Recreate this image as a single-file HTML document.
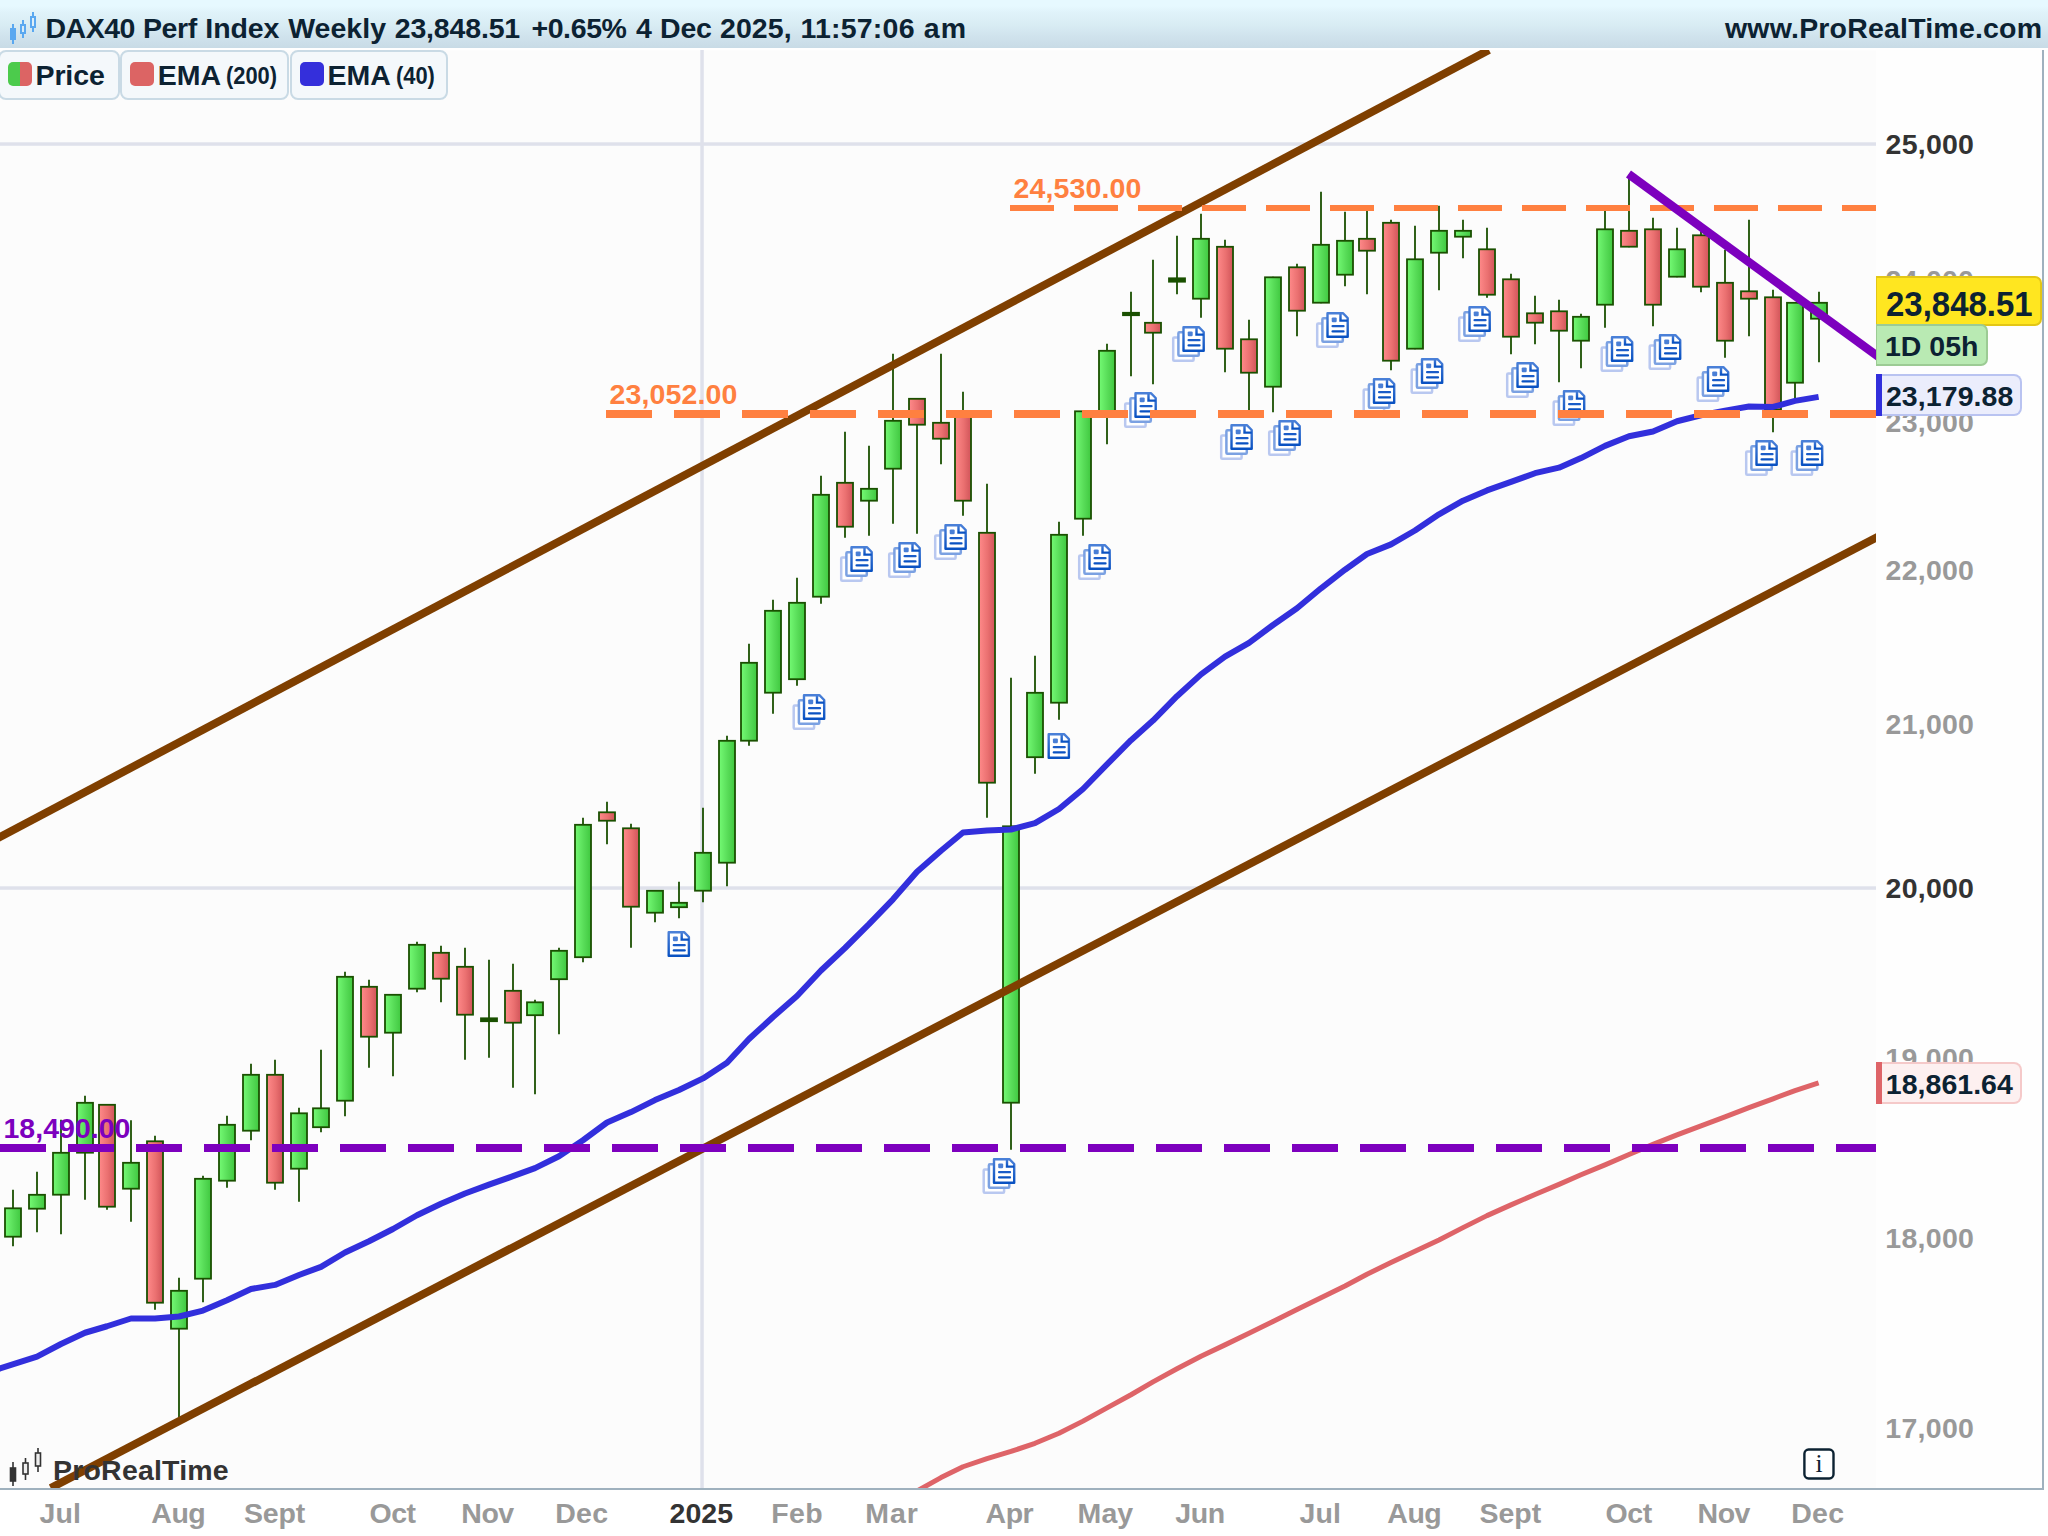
<!DOCTYPE html>
<html><head><meta charset="utf-8"><title>DAX40 Perf Index Weekly</title>
<style>
html,body{margin:0;padding:0;background:#fff;}
body{width:2048px;height:1536px;position:relative;overflow:hidden;font-family:"Liberation Sans",sans-serif;font-weight:bold;}
#titlebar{position:absolute;left:0;top:0;width:2048px;height:48px;background:linear-gradient(#e6f9ff 0px,#e6f9ff 6px,#e0f3fa 12px,#d9edf4 24px,#d0e3ed 36px,#c8dbe6 48px);}
#chart{position:absolute;left:0;top:0;}
.leg{position:absolute;top:50px;height:45.5px;border:2px solid #c9dae5;border-radius:8px;background:#f4f8fb;font-size:28px;line-height:45px;color:#0c2232;white-space:nowrap;box-sizing:content-box;}
.leg i{position:absolute;top:10px;width:24px;height:24px;border-radius:5px;}
.leg span{position:absolute;top:0.6px;font-size:24.5px;transform:scaleX(0.893);transform-origin:0 0;}
.tag{position:absolute;box-sizing:border-box;white-space:nowrap;color:#0c2232;}
.t{position:absolute;line-height:40px;white-space:nowrap;}
</style></head><body>
<div id="titlebar"></div>

<svg id="chart" width="2048" height="1536" viewBox="0 0 2048 1536">
<defs>
<linearGradient id="gg" x1="0" x2="1" y1="0" y2="0"><stop offset="0" stop-color="#74fa74"/><stop offset="0.55" stop-color="#58dc58"/><stop offset="1" stop-color="#40c840"/></linearGradient>
<linearGradient id="rg" x1="0" x2="1" y1="0" y2="0"><stop offset="0" stop-color="#ff8a8a"/><stop offset="0.55" stop-color="#ea7070"/><stop offset="0.9" stop-color="#d65a5e"/><stop offset="1" stop-color="#e4626a"/></linearGradient>
<linearGradient id="dg" x1="0" x2="0" y1="0" y2="1"><stop offset="0" stop-color="#4a80d8"/><stop offset="1" stop-color="#0a52c2"/></linearGradient>
<clipPath id="plot"><rect x="0" y="50" width="1876" height="1438"/></clipPath>
<g id="doc">
<path d="M1.2 1.2H16.6L21.4 6V24.8H1.2Z" fill="#fff" stroke="url(#dg)" stroke-width="2.4" stroke-linejoin="round"/>
<path d="M14.2 1.2V8.6H21.4" fill="none" stroke="url(#dg)" stroke-width="2.4"/>
<rect x="5.4" y="5.4" width="5" height="4.8" rx="1.2" fill="#4a7fd6"/>
<path d="M6.3 14.2H17.2" stroke="#1a5cc8" stroke-width="2.3" stroke-linecap="round"/>
<path d="M6.3 19.4H17.2" stroke="#0a52c2" stroke-width="2.3" stroke-linecap="round"/>
</g>
<g id="docs">
<rect x="-9.1" y="11.5" width="20.4" height="23.3" rx="1" fill="#fff" stroke="#b9c8f0" stroke-width="2.5"/>
<rect x="-3.9" y="6.3" width="20.4" height="23.4" rx="1" fill="#fff" stroke="#7ba1e2" stroke-width="2.5"/>
<use href="#doc"/>
</g>
</defs>
<rect x="0" y="50.4" width="1876" height="1438" fill="#fcfcfc"/>
<rect x="1876" y="50" width="166" height="1438" fill="#fefefe"/>
<g fill="#dfe1eb"><rect x="0" y="142.3" width="1876" height="3.5"/><rect x="0" y="886.3" width="1876" height="3.5"/><rect x="700.3" y="50" width="3.5" height="1438"/></g>
<g clip-path="url(#plot)">
<g stroke="#1a5000" stroke-width="1.8">
<path d="M13 1189.7V1246.3" fill="none"/>
<rect x="5" y="1208.3" width="16" height="28.4" fill="url(#gg)"/>
<path d="M37 1171.7V1232.3" fill="none"/>
<rect x="29" y="1194.8" width="16" height="13.9" fill="url(#gg)"/>
<path d="M61 1119.7V1234.3" fill="none"/>
<rect x="53" y="1152.8" width="16" height="41.9" fill="url(#gg)"/>
<path d="M85 1095.7V1199.8" fill="none"/>
<rect x="77" y="1102.8" width="16" height="49.9" fill="url(#gg)"/>
<path d="M107 1104.2V1209.8" fill="none"/>
<rect x="99" y="1104.8" width="16" height="101.9" fill="url(#rg)"/>
<path d="M131 1120.2V1221.8" fill="none"/>
<rect x="123" y="1162.8" width="16" height="25.9" fill="url(#gg)"/>
<path d="M155 1135.7V1309.8" fill="none"/>
<rect x="147" y="1141.3" width="16" height="161.4" fill="url(#rg)"/>
<path d="M179 1277.7V1417.3" fill="none"/>
<rect x="171" y="1290.8" width="16" height="37.9" fill="url(#gg)"/>
<path d="M203 1175.7V1302.3" fill="none"/>
<rect x="195" y="1178.8" width="16" height="99.9" fill="url(#gg)"/>
<path d="M227 1115.7V1187.8" fill="none"/>
<rect x="219" y="1124.8" width="16" height="55.9" fill="url(#gg)"/>
<path d="M251 1063.7V1140.3" fill="none"/>
<rect x="243" y="1074.8" width="16" height="55.9" fill="url(#gg)"/>
<path d="M275 1059.7V1189.8" fill="none"/>
<rect x="267" y="1074.8" width="16" height="107.9" fill="url(#rg)"/>
<path d="M299 1107.7V1201.8" fill="none"/>
<rect x="291" y="1113.3" width="16" height="55.4" fill="url(#gg)"/>
<path d="M321 1049.7V1132.3" fill="none"/>
<rect x="313" y="1108.3" width="16" height="18.9" fill="url(#gg)"/>
<path d="M345 971.7V1116.3" fill="none"/>
<rect x="337" y="976.8" width="16" height="123.9" fill="url(#gg)"/>
<path d="M369 979.7V1067.8" fill="none"/>
<rect x="361" y="986.8" width="16" height="49.9" fill="url(#rg)"/>
<path d="M393 994.2V1076.3" fill="none"/>
<rect x="385" y="994.8" width="16" height="37.9" fill="url(#gg)"/>
<path d="M417 941.7V992.3" fill="none"/>
<rect x="409" y="944.8" width="16" height="43.9" fill="url(#gg)"/>
<path d="M441 945.7V1002.3" fill="none"/>
<rect x="433" y="952.8" width="16" height="25.9" fill="url(#rg)"/>
<path d="M465 947.7V1059.8" fill="none"/>
<rect x="457" y="966.8" width="16" height="47.9" fill="url(#rg)"/>
<path d="M489 959.7V1057.8" fill="none"/>
<rect x="481" y="1018.3" width="16" height="2.9" fill="#1a5000"/>
<path d="M513 963.7V1087.8" fill="none"/>
<rect x="505" y="990.8" width="16" height="31.9" fill="url(#rg)"/>
<path d="M535 999.7V1094.3" fill="none"/>
<rect x="527" y="1002.3" width="16" height="12.9" fill="url(#gg)"/>
<path d="M559 947.7V1034.3" fill="none"/>
<rect x="551" y="950.8" width="16" height="28.4" fill="url(#gg)"/>
<path d="M583 817.7V962.3" fill="none"/>
<rect x="575" y="824.8" width="16" height="132.4" fill="url(#gg)"/>
<path d="M607 801.7V844.3" fill="none"/>
<rect x="599" y="812.3" width="16" height="8.4" fill="url(#rg)"/>
<path d="M631 823.7V947.8" fill="none"/>
<rect x="623" y="828.3" width="16" height="78.4" fill="url(#rg)"/>
<path d="M655 890.2V922.3" fill="none"/>
<rect x="647" y="890.8" width="16" height="21.9" fill="url(#gg)"/>
<path d="M679 881.7V918.3" fill="none"/>
<rect x="671" y="902.8" width="16" height="4.4" fill="url(#gg)"/>
<path d="M703 807.7V902.3" fill="none"/>
<rect x="695" y="852.8" width="16" height="37.9" fill="url(#gg)"/>
<path d="M727 735.7V886.3" fill="none"/>
<rect x="719" y="740.8" width="16" height="121.9" fill="url(#gg)"/>
<path d="M749 643.7V745.8" fill="none"/>
<rect x="741" y="662.8" width="16" height="77.9" fill="url(#gg)"/>
<path d="M773 599.7V713.8" fill="none"/>
<rect x="765" y="610.8" width="16" height="81.9" fill="url(#gg)"/>
<path d="M797 577.7V685.8" fill="none"/>
<rect x="789" y="602.8" width="16" height="76.4" fill="url(#gg)"/>
<path d="M821 475.7V603.8" fill="none"/>
<rect x="813" y="494.8" width="16" height="101.9" fill="url(#gg)"/>
<path d="M845 431.7V537.8" fill="none"/>
<rect x="837" y="482.8" width="16" height="43.9" fill="url(#rg)"/>
<path d="M869 445.7V535.8" fill="none"/>
<rect x="861" y="488.8" width="16" height="11.9" fill="url(#gg)"/>
<path d="M893 353.7V523.8" fill="none"/>
<rect x="885" y="420.8" width="16" height="47.9" fill="url(#gg)"/>
<path d="M917 398.2V533.8" fill="none"/>
<rect x="909" y="398.8" width="16" height="25.9" fill="url(#rg)"/>
<path d="M941 353.7V464.3" fill="none"/>
<rect x="933" y="422.8" width="16" height="15.9" fill="url(#rg)"/>
<path d="M963 391.7V515.8" fill="none"/>
<rect x="955" y="415.3" width="16" height="85.4" fill="url(#rg)"/>
<path d="M987 483.7V817.8" fill="none"/>
<rect x="979" y="532.8" width="16" height="249.9" fill="url(#rg)"/>
<path d="M1011 677.7V1149.8" fill="none"/>
<rect x="1003" y="826.3" width="16" height="276.4" fill="url(#gg)"/>
<path d="M1035 655.7V773.8" fill="none"/>
<rect x="1027" y="692.8" width="16" height="64.4" fill="url(#gg)"/>
<path d="M1059 521.7V719.8" fill="none"/>
<rect x="1051" y="534.8" width="16" height="167.9" fill="url(#gg)"/>
<path d="M1083 410.7V535.8" fill="none"/>
<rect x="1075" y="411.3" width="16" height="107.4" fill="url(#gg)"/>
<path d="M1107 343.7V444.3" fill="none"/>
<rect x="1099" y="350.8" width="16" height="60.9" fill="url(#gg)"/>
<path d="M1131 291.7V376.3" fill="none"/>
<rect x="1123" y="312.8" width="16" height="2.4" fill="#1a5000"/>
<path d="M1153 259.7V384.3" fill="none"/>
<rect x="1145" y="322.8" width="16" height="9.9" fill="url(#rg)"/>
<path d="M1177 235.7V294.3" fill="none"/>
<rect x="1169" y="278.3" width="16" height="3.4" fill="#1a5000"/>
<path d="M1201 213.7V317.8" fill="none"/>
<rect x="1193" y="238.8" width="16" height="59.9" fill="url(#gg)"/>
<path d="M1225 239.7V372.3" fill="none"/>
<rect x="1217" y="246.8" width="16" height="101.9" fill="url(#rg)"/>
<path d="M1249 319.7V410.3" fill="none"/>
<rect x="1241" y="339.3" width="16" height="33.4" fill="url(#rg)"/>
<path d="M1273 276.7V412.3" fill="none"/>
<rect x="1265" y="277.3" width="16" height="109.4" fill="url(#gg)"/>
<path d="M1297 263.7V336.3" fill="none"/>
<rect x="1289" y="267.3" width="16" height="43.4" fill="url(#rg)"/>
<path d="M1321 191.7V303.3" fill="none"/>
<rect x="1313" y="244.8" width="16" height="57.9" fill="url(#gg)"/>
<path d="M1345 211.7V286.3" fill="none"/>
<rect x="1337" y="240.8" width="16" height="33.9" fill="url(#gg)"/>
<path d="M1367 210.7V294.3" fill="none"/>
<rect x="1359" y="238.8" width="16" height="11.9" fill="url(#rg)"/>
<path d="M1391 219.7V370.3" fill="none"/>
<rect x="1383" y="222.8" width="16" height="137.9" fill="url(#rg)"/>
<path d="M1415 225.7V349.3" fill="none"/>
<rect x="1407" y="259.3" width="16" height="89.4" fill="url(#gg)"/>
<path d="M1439 205.7V290.3" fill="none"/>
<rect x="1431" y="230.8" width="16" height="21.9" fill="url(#gg)"/>
<path d="M1463 219.7V258.3" fill="none"/>
<rect x="1455" y="230.8" width="16" height="5.9" fill="url(#gg)"/>
<path d="M1487 227.7V297.8" fill="none"/>
<rect x="1479" y="249.3" width="16" height="45.4" fill="url(#rg)"/>
<path d="M1511 273.7V354.3" fill="none"/>
<rect x="1503" y="279.3" width="16" height="57.4" fill="url(#rg)"/>
<path d="M1535 295.7V344.3" fill="none"/>
<rect x="1527" y="313.3" width="16" height="9.4" fill="url(#rg)"/>
<path d="M1559 299.7V382.3" fill="none"/>
<rect x="1551" y="311.3" width="16" height="19.4" fill="url(#rg)"/>
<path d="M1581 313.7V368.3" fill="none"/>
<rect x="1573" y="316.8" width="16" height="23.9" fill="url(#gg)"/>
<path d="M1605 210.7V327.8" fill="none"/>
<rect x="1597" y="229.3" width="16" height="75.4" fill="url(#gg)"/>
<path d="M1629 174.7V247.3" fill="none"/>
<rect x="1621" y="230.8" width="16" height="15.9" fill="url(#rg)"/>
<path d="M1653 217.7V326.3" fill="none"/>
<rect x="1645" y="229.3" width="16" height="75.4" fill="url(#rg)"/>
<path d="M1677 227.7V277.3" fill="none"/>
<rect x="1669" y="249.3" width="16" height="27.4" fill="url(#gg)"/>
<path d="M1701 230.7V292.3" fill="none"/>
<rect x="1693" y="235.3" width="16" height="51.4" fill="url(#rg)"/>
<path d="M1725 249.7V357.8" fill="none"/>
<rect x="1717" y="282.8" width="16" height="57.9" fill="url(#rg)"/>
<path d="M1749 219.7V336.3" fill="none"/>
<rect x="1741" y="291.3" width="16" height="7.4" fill="url(#rg)"/>
<path d="M1773 289.7V432.3" fill="none"/>
<rect x="1765" y="297.3" width="16" height="112.4" fill="url(#rg)"/>
<path d="M1795 302.2V402.8" fill="none"/>
<rect x="1787" y="302.8" width="16" height="79.9" fill="url(#gg)"/>
<path d="M1819 291.7V362.3" fill="none"/>
<rect x="1811" y="302.8" width="16" height="15.9" fill="url(#gg)"/>
</g>
<use href="#docs" x="850.3" y="546"/>
<use href="#docs" x="898.3" y="542"/>
<use href="#docs" x="944.3" y="524"/>
<use href="#docs" x="1088.3" y="544"/>
<use href="#docs" x="802.8" y="694"/>
<use href="#docs" x="1326.3" y="312"/>
<use href="#docs" x="1468.3" y="306"/>
<use href="#docs" x="1372.8" y="378"/>
<use href="#docs" x="1420.8" y="358"/>
<use href="#docs" x="1516.3" y="362"/>
<use href="#docs" x="1562.8" y="390"/>
<use href="#docs" x="1610.8" y="336"/>
<use href="#docs" x="1658.8" y="334"/>
<use href="#docs" x="1706.8" y="366"/>
<use href="#docs" x="1230.3" y="424"/>
<use href="#docs" x="1278.3" y="420"/>
<use href="#docs" x="1182.3" y="326"/>
<use href="#docs" x="1755.3" y="440"/>
<use href="#docs" x="1800.8" y="440"/>
<use href="#docs" x="992.8" y="1158"/>
<use href="#docs" x="1134.3" y="392"/>
<use href="#doc" x="667.5" y="931"/>
<use href="#doc" x="1047.5" y="733"/>
<polyline points="917,1491 941,1477.56 963,1466.75 987,1458.56 1011,1451.44 1035,1443.31 1059,1433.19 1083,1421.12 1107,1407.9 1131,1394.74 1153,1381.9 1177,1368.81 1201,1356.25 1225,1344.88 1249,1333.35 1273,1321.39 1297,1309.58 1321,1297.76 1345,1285.95 1367,1274.21 1391,1262.56 1415,1251.35 1439,1239.99 1463,1227.65 1487,1215.62 1511,1204.85 1535,1194.45 1559,1184.35 1581,1174.75 1605,1164.88 1629,1154.5 1653,1144.38 1677,1134.81 1701,1125.81 1725,1116.94 1749,1107.69 1773,1098.81 1795,1090.58 1818.6,1082.8" fill="none" stroke="#de6468" stroke-width="5" stroke-linejoin="round"/>
<polyline points="-6,1370.5 0,1368.5 37,1356.7 61,1344 85,1332.75 107,1326.25 131,1318.5 155,1318.5 179,1316.5 203,1310.6 227,1300.25 251,1289 275,1284.9 299,1275 321,1266.9 345,1252.5 369,1241.25 393,1229 417,1215.25 441,1203.75 465,1193.5 489,1184.6 513,1176.2 535,1168.1 559,1156.25 583,1140.25 607,1122.5 631,1112.1 655,1100.1 679,1090 703,1078.4 727,1062.75 749,1039 773,1017 797,996 821,970.5 845,948 869,924.2 893,899.3 917,871.7 941,850.7 963,832.5 987,830.5 1011,829.5 1035,823.2 1059,809 1083,789 1107,764.4 1131,740.2 1153,720.6 1177,696.2 1201,674.4 1225,656.7 1249,642.8 1273,625 1297,608.3 1321,588.3 1345,569.7 1367,554 1391,544.4 1415,530.5 1439,514.3 1463,500.7 1487,490.4 1511,481.9 1535,473.2 1559,467.7 1581,458.1 1605,445.9 1629,436.25 1653,431.5 1677,421.25 1701,415.25 1725,410.6 1749,406.5 1773,406.9 1795,400.9 1818.6,396.9" fill="none" stroke="#322fdc" stroke-width="6" stroke-linejoin="round"/>
<g stroke="#7f3f00" stroke-width="8"><path d="M-10 842.3L1489 50"/><path d="M50.7 1488L1900 525.2"/></g>
<path d="M1010 208H1876" stroke="#ff8040" stroke-width="6" stroke-dasharray="44 20"/>
<path d="M606 414H1876" stroke="#ff8040" stroke-width="8" stroke-dasharray="46 22"/>
<path d="M0 1148H1876" stroke="#7d00be" stroke-width="8" stroke-dasharray="46 22"/>
<path d="M1628.5 174L1890 365.3" stroke="#7d00be" stroke-width="8.5" stroke-linecap="butt"/>
</g>
<rect x="0" y="1488" width="2044" height="2" fill="#9fb1be"/>
<rect x="2042" y="50" width="2" height="1440" fill="#9fb1be"/>
<g fill="#5aa8f0" stroke="#5aa8f0" stroke-width="2"><path d="M13 24V44M23 20V38M33 12V32" fill="none"/><rect x="11" y="29" width="4" height="10"/><rect x="21" y="25" width="4" height="8" fill="#d8ebf5"/><rect x="31" y="17" width="4" height="10" fill="#deeff8"/></g>
<g fill="#333" stroke="#333" stroke-width="1.6"><path d="M13 1462V1486M25.5 1458V1480M38 1448V1472" fill="none"/><rect x="10.5" y="1468" width="5" height="13"/><rect x="23" y="1463" width="5" height="11" fill="#eee"/><rect x="35.5" y="1453" width="5" height="13" fill="#eee"/></g>
<rect x="1804.4" y="1449.5" width="29.1" height="29" rx="4.2" fill="#fff" stroke="#0c2232" stroke-width="2.4"/>
</svg>
<div class="leg" style="left:-2px;width:118px;"><i style="left:8.2px;background:linear-gradient(90deg,#4ccb4c 50%,#dc6464 50%)"></i></div>
<div class="leg" style="left:120px;width:165px;"><i style="left:7.8px;background:#dc6464"></i><span style="left:103.6px">(200)</span></div>
<div class="leg" style="left:290px;width:154px;"><i style="left:7.8px;background:#342fdb"></i><span style="left:104.4px">(40)</span></div>
<div id="labels">
<div class="t" style="left:45.5px;top:7.9px;font-size:28.5px;letter-spacing:-0.50px;color:#0c2232;">DAX40</div>
<div class="t" style="left:143.0px;top:7.9px;font-size:28.5px;letter-spacing:-0.43px;color:#0c2232;">Perf</div>
<div class="t" style="left:205.3px;top:7.9px;font-size:28.5px;letter-spacing:-0.08px;color:#0c2232;">Index</div>
<div class="t" style="left:288.2px;top:7.9px;font-size:28.5px;letter-spacing:0.02px;color:#0c2232;">Weekly</div>
<div class="t" style="left:394.7px;top:7.9px;font-size:28.5px;letter-spacing:-0.16px;color:#0c2232;">23,848.51</div>
<div class="t" style="left:531.4px;top:7.9px;font-size:28.5px;letter-spacing:-0.38px;color:#0c2232;">+0.65%</div>
<div class="t" style="left:636.1px;top:7.9px;font-size:28.5px;letter-spacing:0.00px;color:#0c2232;">4</div>
<div class="t" style="left:660.0px;top:7.9px;font-size:28.5px;letter-spacing:-0.20px;color:#0c2232;">Dec</div>
<div class="t" style="left:720.0px;top:7.9px;font-size:28.5px;letter-spacing:0.07px;color:#0c2232;">2025,</div>
<div class="t" style="left:800.4px;top:7.9px;font-size:28.5px;letter-spacing:0.23px;color:#0c2232;">11:57:06</div>
<div class="t" style="left:923.8px;top:7.9px;font-size:28.5px;letter-spacing:1.20px;color:#0c2232;">am</div>
<div class="t" style="left:1725.0px;top:7.9px;font-size:28.5px;letter-spacing:0.19px;color:#0c2232;">www.ProRealTime.com</div>
<div class="t" style="left:35.5px;top:55.1px;font-size:28.5px;letter-spacing:-0.12px;color:#0c2232;">Price</div>
<div class="t" style="left:157.8px;top:55.1px;font-size:28.5px;letter-spacing:-0.05px;color:#0c2232;">EMA</div>
<div class="t" style="left:327.6px;top:55.1px;font-size:28.5px;letter-spacing:-0.05px;color:#0c2232;">EMA</div>
<div class="t" style="left:1885.6px;top:123.9px;font-size:28.5px;letter-spacing:0.24px;color:#333;">25,000</div>
<div class="t" style="left:1885.6px;top:260.1px;font-size:28.5px;letter-spacing:0.24px;color:#999;">24,000</div>
<div class="t" style="left:1885.6px;top:401.9px;font-size:28.5px;letter-spacing:0.24px;color:#999;">23,000</div>
<div class="t" style="left:1885.6px;top:549.9px;font-size:28.5px;letter-spacing:0.24px;color:#999;">22,000</div>
<div class="t" style="left:1885.6px;top:704.4px;font-size:28.5px;letter-spacing:0.24px;color:#999;">21,000</div>
<div class="t" style="left:1885.6px;top:867.9px;font-size:28.5px;letter-spacing:0.24px;color:#333;">20,000</div>
<div class="t" style="left:1885.3px;top:1037.9px;font-size:28.5px;letter-spacing:0.30px;color:#999;">19,000</div>
<div class="t" style="left:1885.3px;top:1217.9px;font-size:28.5px;letter-spacing:0.30px;color:#999;">18,000</div>
<div class="t" style="left:1885.3px;top:1407.9px;font-size:28.5px;letter-spacing:0.30px;color:#999;">17,000</div>
<div class="t" style="left:39.6px;top:1493.4px;font-size:28.5px;letter-spacing:0.05px;color:#999;">Jul</div>
<div class="t" style="left:151.3px;top:1493.4px;font-size:28.5px;letter-spacing:-0.50px;color:#999;">Aug</div>
<div class="t" style="left:243.9px;top:1493.4px;font-size:28.5px;letter-spacing:-0.17px;color:#999;">Sept</div>
<div class="t" style="left:369.6px;top:1493.4px;font-size:28.5px;letter-spacing:-0.50px;color:#999;">Oct</div>
<div class="t" style="left:461.3px;top:1493.4px;font-size:28.5px;letter-spacing:-0.50px;color:#999;">Nov</div>
<div class="t" style="left:555.3px;top:1493.4px;font-size:28.5px;letter-spacing:0.20px;color:#999;">Dec</div>
<div class="t" style="left:669.6px;top:1493.4px;font-size:28.5px;letter-spacing:0.03px;color:#333;">2025</div>
<div class="t" style="left:771.3px;top:1493.4px;font-size:28.5px;letter-spacing:0.40px;color:#999;">Feb</div>
<div class="t" style="left:865.3px;top:1493.4px;font-size:28.5px;letter-spacing:0.90px;color:#999;">Mar</div>
<div class="t" style="left:985.6px;top:1493.4px;font-size:28.5px;letter-spacing:-0.50px;color:#999;">Apr</div>
<div class="t" style="left:1077.6px;top:1493.4px;font-size:28.5px;letter-spacing:0.05px;color:#999;">May</div>
<div class="t" style="left:1175.3px;top:1493.4px;font-size:28.5px;letter-spacing:-0.45px;color:#999;">Jun</div>
<div class="t" style="left:1299.6px;top:1493.4px;font-size:28.5px;letter-spacing:0.05px;color:#999;">Jul</div>
<div class="t" style="left:1387.3px;top:1493.4px;font-size:28.5px;letter-spacing:-0.50px;color:#999;">Aug</div>
<div class="t" style="left:1479.6px;top:1493.4px;font-size:28.5px;letter-spacing:-0.07px;color:#999;">Sept</div>
<div class="t" style="left:1605.6px;top:1493.4px;font-size:28.5px;letter-spacing:-0.45px;color:#999;">Oct</div>
<div class="t" style="left:1697.6px;top:1493.4px;font-size:28.5px;letter-spacing:-0.50px;color:#999;">Nov</div>
<div class="t" style="left:1791.3px;top:1493.4px;font-size:28.5px;letter-spacing:0.20px;color:#999;">Dec</div>
<div class="t" style="left:1013.5px;top:167.9px;font-size:28.5px;letter-spacing:0.14px;color:#ff8040;">24,530.00</div>
<div class="t" style="left:609.5px;top:374.1px;font-size:28.5px;letter-spacing:0.14px;color:#ff8040;">23,052.00</div>
<div class="t" style="left:3.5px;top:1108.0px;font-size:28.5px;letter-spacing:0.02px;color:#7d00be;">18,490.00</div>
<div class="t" style="left:53.0px;top:1449.7px;font-size:28.5px;letter-spacing:0.20px;color:#333;">ProRealTime</div>
</div>
<div style="position:absolute;left:1804px;top:1448.6px;width:30px;height:30px;text-align:center;font-family:'Liberation Serif',serif;font-weight:normal;font-size:25.5px;line-height:30px;color:#0c2232">i</div>
<div class="tag" style="left:1876px;top:276px;width:166px;height:50px;background:#ffe620;border:2px solid #e3c616;border-left-width:1.5px;border-radius:0 7px 7px 0;"></div>
<div class="t" style="left:1886.0px;top:283.7px;font-size:35px;transform:scaleX(0.9416);transform-origin:0 0;color:#0c2232">23,848.51</div>
<div class="tag" style="left:1876px;top:324.3px;width:111.8px;height:41.6px;background:#b9eab3;border:2px solid #9ccb94;border-left-width:1.5px;border-radius:0 7px 7px 0;"></div>
<div class="t" style="left:1885.0px;top:326.1px;font-size:28.5px;letter-spacing:0.00px;color:#0c2232">1D 05h</div>
<div class="tag" style="left:1876px;top:374px;width:146px;height:42px;background:#ebedfc;border:2px solid #b9c3f1;border-left:none;border-radius:0 8px 8px 0;"></div>
<div class="tag" style="left:1876px;top:374px;width:6px;height:42px;background:#322fdc"></div>
<div class="t" style="left:1885.9px;top:375.9px;font-size:28.5px;letter-spacing:0.09px;color:#0c2232">23,179.88</div>
<div class="tag" style="left:1876px;top:1062px;width:146px;height:42px;background:#fdf0f0;border:2px solid #f5c9c9;border-left:none;border-radius:0 8px 8px 0;"></div>
<div class="tag" style="left:1876px;top:1062px;width:6px;height:42px;background:#de6468"></div>
<div class="t" style="left:1885.8px;top:1063.7px;font-size:28.5px;letter-spacing:0.03px;color:#0c2232">18,861.64</div>
</body></html>
